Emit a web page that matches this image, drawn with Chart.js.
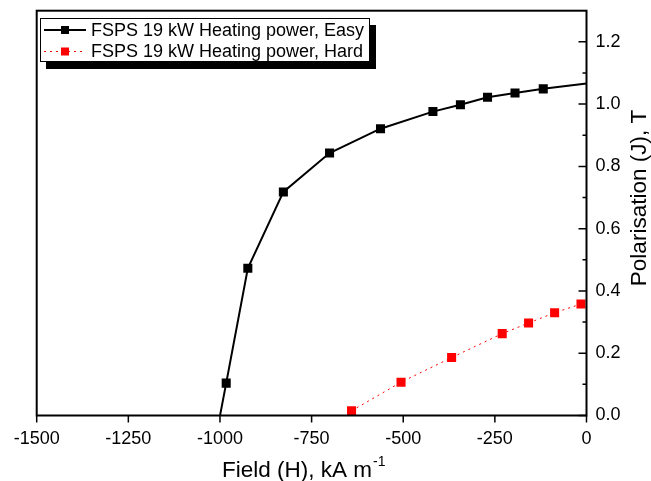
<!DOCTYPE html>
<html>
<head>
<meta charset="utf-8">
<script src="https://cdn.jsdelivr.net/npm/chart.js@4/dist/chart.umd.min.js"></script>
<style>
body { margin: 0; background: #fff; }
#wrap { width: 651px; height: 481px; }
</style>
</head>
<body>
<div id="wrap"><canvas id="myChart" width="651" height="481"></canvas></div>
<script>
var easyLabel = 'FSPS 19 kW Heating power, Easy';
var easyField = [-1016, -983, -924, -827, -701, -562, -419, -344, -270, -195, -118, 0];
var easyPolar = [-0.1, 0.104, 0.473, 0.718, 0.843, 0.921, 0.976, 0.998, 1.022, 1.036, 1.049, 1.066];

var hardLabel = 'FSPS 19 kW Heating power, Hard';
var hardField = [-641, -506, -368, -230, -158, -87, -15];
var hardPolar = [0.015, 0.107, 0.186, 0.263, 0.297, 0.330, 0.358];

var xTitle = 'Field (H), kA m';
var xTitleSup = '-1';
var yTitle = 'Polarisation (J), T';

var font = '"Liberation Sans", Arial, sans-serif';

function toPoints(xs, ys) {
    var pts = [];
    for (var i = 0; i < xs.length; i++) {
        pts.push({x: xs[i], y: ys[i]});
    }
    return pts;
}

function markerSizes(xs, ys) {
    var r = [];
    for (var i = 0; i < xs.length; i++) {
        r.push(xs[i] < 0 && ys[i] >= 0 ? 6.4 : 0);
    }
    return r;
}

var framePlugin = {
    id: 'frame',
    afterDatasetsDraw: function (chart) {
        var ctx = chart.ctx;
        var a = chart.chartArea;
        var xs = chart.scales.x;
        var ys = chart.scales.y;
        ctx.save();
        ctx.strokeStyle = '#000';
        ctx.lineWidth = 2;
        ctx.strokeRect(a.left, a.top, a.right - a.left, a.bottom - a.top);

        ctx.lineWidth = 1.5;
        ctx.beginPath();
        xs.ticks.forEach(function (t) {
            var px = xs.getPixelForValue(t.value);
            ctx.moveTo(px, a.bottom);
            ctx.lineTo(px, a.bottom + 7);
        });
        for (var i = 0; i < ys.ticks.length; i++) {
            var v = ys.ticks[i].value;
            var py = ys.getPixelForValue(v);
            ctx.moveTo(a.right, py);
            ctx.lineTo(a.right - 8, py);
            var mv = v + 0.1;
            if (mv < ys.max) {
                var pm = ys.getPixelForValue(mv);
                ctx.moveTo(a.right, pm);
                ctx.lineTo(a.right - 4, pm);
            }
        }
        ctx.stroke();

        // legend box with drop shadow
        ctx.fillStyle = '#000';
        ctx.fillRect(46, 25, 330, 44);
        ctx.fillStyle = '#fff';
        ctx.fillRect(40, 18.5, 329, 43);
        ctx.lineWidth = 1;
        ctx.strokeRect(40.5, 18.5, 329, 43);

        var rows = [30, 51.5];
        chart.data.datasets.forEach(function (ds, k) {
            var y = rows[k];
            ctx.strokeStyle = ds.borderColor;
            ctx.lineWidth = ds.borderWidth;
            ctx.setLineDash(ds.borderDash || []);
            ctx.beginPath();
            ctx.moveTo(44, y);
            ctx.lineTo(86, y);
            ctx.stroke();
            ctx.setLineDash([]);
            ctx.fillStyle = ds.backgroundColor;
            ctx.fillRect(61, y - 4, 8, 8);
            ctx.fillStyle = '#000';
            ctx.font = '18px ' + font;
            ctx.textAlign = 'left';
            ctx.textBaseline = 'middle';
            ctx.fillText(ds.label, 91, y + 1);
        });

        // axis titles
        ctx.fillStyle = '#000';
        ctx.font = '22.5px ' + font;
        ctx.textAlign = 'left';
        ctx.textBaseline = 'alphabetic';
        ctx.fillText(xTitle, 222, 477);
        var w = ctx.measureText(xTitle).width;
        ctx.font = '14px ' + font;
        ctx.fillText(xTitleSup, 222 + w + 1, 466);

        ctx.translate(646, 198);
        ctx.rotate(-Math.PI / 2);
        ctx.font = '22.5px ' + font;
        ctx.textAlign = 'center';
        ctx.fillText(yTitle, 0, 0);
        ctx.restore();
    }
};

function input() {
    var ctx = document.getElementById('myChart').getContext('2d');
    var chart = new Chart(ctx, {
        type: 'line',
        data: {
            datasets: [{
                label: easyLabel,
                data: toPoints(easyField, easyPolar),
                borderColor: '#000000',
                backgroundColor: '#000000',
                borderWidth: 2,
                pointStyle: 'rect',
                pointRadius: markerSizes(easyField, easyPolar),
                pointBorderWidth: 0,
                clip: 0
            },
                {
                    label: hardLabel,
                    data: toPoints(hardField, hardPolar),
                    borderColor: '#ff0000',
                    backgroundColor: '#ff0000',
                    borderWidth: 1,
                    borderDash: [2, 4],
                    pointStyle: 'rect',
                    pointRadius: 6.4,
                    pointBorderWidth: 0,
                    clip: 0
            }]
        },
        options: {
            responsive: false,
            animation: false,
            layout: {
                autoPadding: false,
                padding: {left: 36.7, top: 10.7, right: 0, bottom: 0}
            },
            plugins: {
                legend: {display: false},
                tooltip: {enabled: false}
            },
            scales: {
                x: {
                    type: 'linear',
                    min: -1500,
                    max: 0,
                    grid: {display: false},
                    border: {display: false},
                    ticks: {
                        stepSize: 250,
                        padding: 5,
                        color: '#000',
                        font: {family: font, size: 18},
                        callback: function (v) { return String(v); }
                    },
                    afterFit: function (s) {
                        s.height = 65.5;
                        s.paddingLeft = 0;
                        s.paddingRight = 0;
                    }
                },
                y: {
                    type: 'linear',
                    position: 'right',
                    min: 0,
                    max: 1.3,
                    grid: {display: false},
                    border: {display: false},
                    ticks: {
                        stepSize: 0.2,
                        includeBounds: false,
                        padding: 1,
                        color: '#000',
                        font: {family: font, size: 18},
                        callback: function (v) { return v.toFixed(1); }
                    },
                    afterFit: function (s) {
                        s.width = 64.5;
                        s.paddingTop = 0;
                        s.paddingBottom = 0;
                    }
                }
            }
        },
        plugins: [framePlugin]
    });
}
input();
</script>
</body>
</html>
